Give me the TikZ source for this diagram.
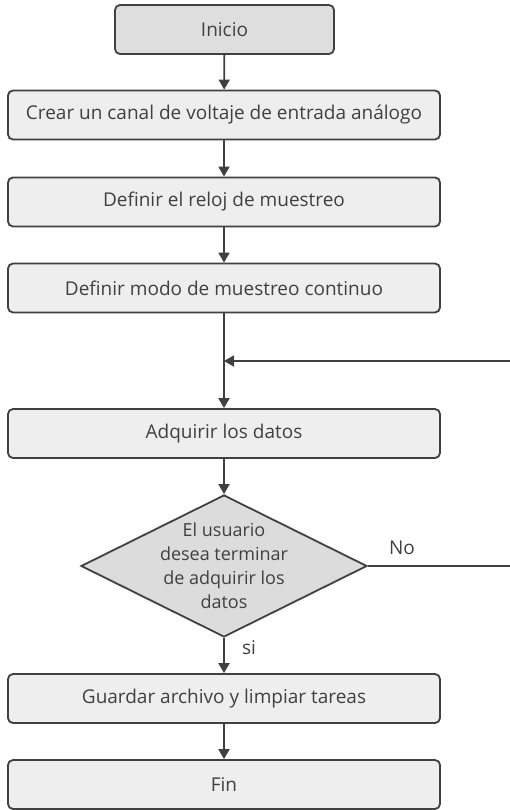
\documentclass[tikz,border=0pt]{standalone}
\usepackage{fontspec}
\setmainfont{Open Sans}
\usetikzlibrary{arrows.meta,shapes.geometric}
\definecolor{ln}{HTML}{404040}
\definecolor{boxfill}{HTML}{EEEEEE}
\definecolor{startfill}{HTML}{DEDEDE}
\definecolor{decfill}{HTML}{DCDCDC}
\tikzset{
  procbox/.style={draw=ln, line width=1.8pt, rounded corners=5pt, fill=boxfill,
    minimum width=432pt, minimum height=49pt, inner sep=0pt,
    text=ln, font=\fontsize{19}{22}\selectfont},
  startbox/.style={procbox, fill=startfill, minimum width=219pt},
  decbox/.style={draw=ln, line width=1.8pt, fill=decfill, diamond, aspect=2.01,
    inner sep=0pt, minimum width=286pt, minimum height=142pt},
  conn/.style={draw=ln, line width=1.8pt, -{Triangle[length=10pt,width=11pt]}},
  plain/.style={draw=ln, line width=1.8pt},
  lbl/.style={text=ln, font=\fontsize{19}{22}\selectfont, inner sep=0pt}
}
\begin{document}
\begin{tikzpicture}[x=1pt,y=-1pt]
\useasboundingbox (0,0) rectangle (510,810);
\node[startbox] (inicio) at (224.5,29.5) {Inicio};
\node[procbox] (crear) at (224,115) {Crear un canal de voltaje de entrada análogo};
\node[procbox] (reloj) at (224,202) {Definir el reloj de muestreo};
\node[procbox] (modo) at (224,288) {Definir modo de muestreo continuo};
\node[procbox] (adq) at (224,433.5) {Adquirir los datos};
\node[decbox] (dec) at (224,566) {};
\node[lbl, align=center, font=\fontsize{18}{24}\selectfont] (dectext) at (224,566) {El usuario\\desea terminar\\de adquirir los\\datos};
\node[procbox] (guardar) at (224,698.5) {Guardar archivo y limpiar tareas};
\node[procbox] (fin) at (224,784.5) {Fin};
\coordinate (join) at (224,361);
\coordinate (backin) at (510,361);
\coordinate (noout) at (510,566);
\draw[conn] (inicio) -- (crear);
\draw[conn] (crear) -- (reloj);
\draw[conn] (reloj) -- (modo);
\draw[conn] (modo) -- (adq);
\draw[conn] (backin) -- (join);
\draw[conn] (adq) -- (dec);
\draw[plain] (dec.east) -- (noout);
\draw[conn] (dec) -- (guardar);
\draw[conn] (guardar) -- (fin);
\node[lbl] (no) at (402,548) {No};
\node[lbl] (si) at (249,648) {si};
\end{tikzpicture}
\end{document}
